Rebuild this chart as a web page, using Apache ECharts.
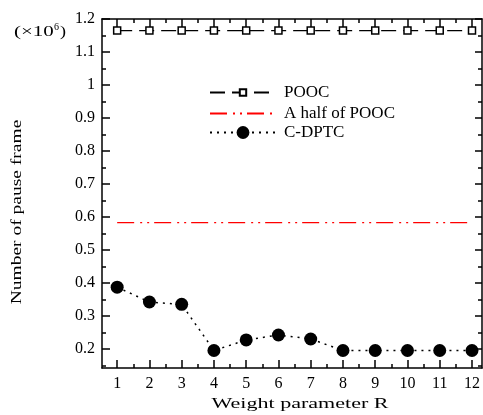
<!DOCTYPE html>
<html><head><meta charset="utf-8">
<script src="https://cdn.jsdelivr.net/npm/echarts@6/dist/echarts.min.js"></script>
<style>html,body{margin:0;padding:0;background:#fff}#c{width:483px;height:415px}</style>
</head><body><div id="c"></div>
<script>
var categories = [1,2,3,4,5,6,7,8,9,10,11,12];
var poocValues = [1.165,1.165,1.165,1.165,1.165,1.165,1.165,1.165,1.165,1.165,1.165,1.165];
var halfPoocValues = [0.5825,0.5825,0.5825,0.5825,0.5825,0.5825,0.5825,0.5825,0.5825,0.5825,0.5825,0.5825];
var cdptcValues = [0.387,0.342,0.335,0.195,0.227,0.242,0.230,0.195,0.195,0.195,0.195,0.195];
var yTickLabels = [0.2,0.3,0.4,0.5,0.6,0.7,0.8,0.9,1.0,1.1,1.2];
var yMinorTicks = [0.15,0.25,0.35,0.45,0.55,0.65,0.75,0.85,0.95,1.05,1.15];
var xMinorTicks = [1.5,2.5,3.5,4.5,5.5,6.5,7.5,8.5,9.5,10.5,11.5];

function pairs(vals){ return categories.map(function(c,i){ return [c, vals[i]]; }); }
var FONT = 'Liberation Serif';
var X_MIN = 0.53, X_MAX = 12.31, Y_MIN = 0.142, Y_MAX = 1.2;

function yAx(pos, ticks, len, showLabel, showLine){
  return {
    type:'value', position:pos, min:Y_MIN, max:Y_MAX,
    axisLine:{show:showLine, lineStyle:{color:'#000', width:1.5}},
    axisTick:{show:true, inside:true, length:len, customValues:ticks, lineStyle:{color:'#000', width:1.5}},
    axisLabel:{show:showLabel, customValues:ticks, fontFamily:FONT, fontSize:16, color:'#000', margin:7,
      formatter:function(v){ return String(Math.round(v*10)/10); }},
    splitLine:{show:false}
  };
}
function xAx(pos, ticks, len, showLabel, showLine){
  return {
    type:'value', position:pos, min:X_MIN, max:X_MAX,
    axisLine:{show:showLine, lineStyle:{color:'#000', width:1.5}},
    axisTick:{show:true, inside:true, length:len, customValues:ticks, lineStyle:{color:'#000', width:1.5}},
    axisLabel:{show:showLabel, customValues:ticks, fontFamily:FONT, fontSize:16, color:'#000', margin:8},
    splitLine:{show:false}
  };
}
function leg(name, top, h, extra){
  var l = {
    orient:'vertical', left:204, top:top, itemWidth:66, itemHeight:h,
    textStyle:{fontFamily:FONT, fontSize:17, color:'#000', padding:[0,0,0,3]},
    data:[name]
  };
  for (var k in (extra||{})) l[k] = extra[k];
  return l;
}

var chart = echarts.init(document.getElementById('c'));
chart.setOption({
  animation:false,
  backgroundColor:'#fff',
  grid:{left:102, right:1, top:19, bottom:47},
  legend:[
    leg('POOC', 79, 8),
    leg('A half of POOC', 100, 10, {itemStyle:{color:'rgba(0,0,0,0)', borderColor:'rgba(0,0,0,0)', borderWidth:0}}),
    leg('C-DPTC', 119, 16)
  ],
  xAxis:[
    xAx('bottom', categories, 8, true, true),
    xAx('bottom', xMinorTicks, 4, false, false),
    xAx('top', categories, 8, false, true),
    xAx('top', xMinorTicks, 4, false, false)
  ],
  yAxis:[
    yAx('left', yTickLabels, 8, true, true),
    yAx('left', yMinorTicks, 4, false, false),
    yAx('right', yTickLabels, 7, false, true),
    yAx('right', yMinorTicks, 4, false, false)
  ],
  graphic:[
    {type:'text', x:14, y:32, scaleX:1.4, style:{text:'(×10', fontFamily:FONT, fontSize:15, fill:'#000', textVerticalAlign:'middle'}},
    {type:'text', x:54, y:27, style:{text:'6', fontFamily:FONT, fontSize:10, fill:'#000', textVerticalAlign:'middle'}},
    {type:'text', x:60, y:32, scaleX:1.2, style:{text:')', fontFamily:FONT, fontSize:15, fill:'#000', textVerticalAlign:'middle'}},
    {type:'text', x:300, y:404, scaleX:1.47, style:{text:'Weight parameter R', fontFamily:FONT, fontSize:15, fill:'#000', textAlign:'center', textVerticalAlign:'middle'}},
    {type:'text', x:17, y:212, rotation:Math.PI/2, scaleX:1.3, style:{text:'Number of pause frame', fontFamily:FONT, fontSize:15, fill:'#000', textAlign:'center', textVerticalAlign:'middle'}}
  ],
  series:[
    {name:'POOC', type:'line', xAxisIndex:0, yAxisIndex:0, data:pairs(poocValues),
      symbol:'rect', symbolSize:7, itemStyle:{color:'#fff', borderColor:'#000', borderWidth:1.5},
      lineStyle:{color:'#000', width:1.2, type:[15,7]}, z:3},
    {name:'A half of POOC', type:'line', xAxisIndex:0, yAxisIndex:0, data:pairs(halfPoocValues),
      symbol:'none', itemStyle:{color:'#ff0000'},
      lineStyle:{color:'#ff0000', width:1.2, type:[17,6,2,5,2,5]}},
    {name:'C-DPTC', type:'line', xAxisIndex:0, yAxisIndex:0, data:pairs(cdptcValues),
      symbol:'circle', symbolSize:13, itemStyle:{color:'#000'},
      lineStyle:{color:'#000', width:1.5, type:[2,5]}}
  ]
});
</script>
</body></html>
